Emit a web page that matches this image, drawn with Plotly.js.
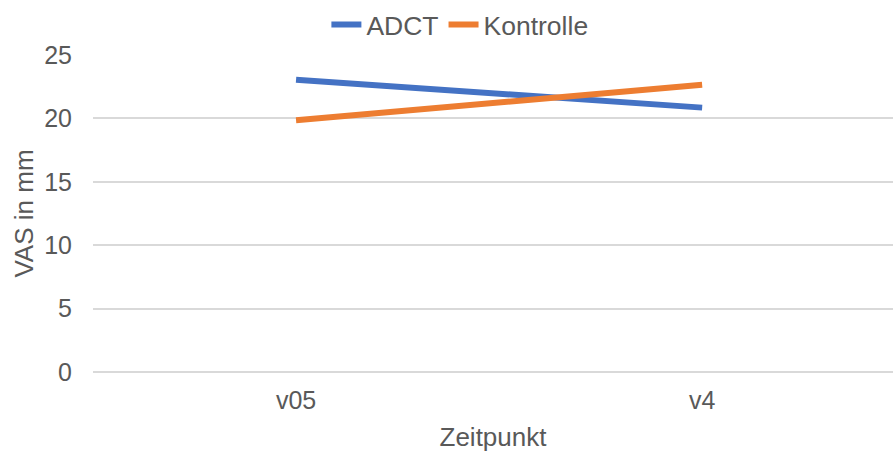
<!DOCTYPE html>
<html>
<head>
<meta charset="utf-8">
<script src="https://cdn.plot.ly/plotly-3.0.1.min.js"></script>
<style>
html,body{margin:0;padding:0;background:#fff;overflow:hidden;}
#chart{width:893px;height:452px;}
</style>
</head>
<body>
<div id="chart"></div>
<script>
const categories = ["v05", "v4"];
const adct = [23.05, 20.85];
const kontrolle = [19.85, 22.65];
const yTicks = [0, 5, 10, 15, 20, 25];

const font = "Liberation Sans, Arial, sans-serif";
const gray = "#595959";

const traces = [
  {x: categories, y: adct, name: "ADCT", type: "scatter", mode: "lines",
   line: {color: "#4472C4", width: 6}},
  {x: categories, y: kontrolle, name: "Kontrolle", type: "scatter", mode: "lines",
   line: {color: "#ED7D31", width: 6}}
];

const layout = {
  width: 893, height: 452,
  margin: {l: 92.5, r: 0, t: 54.5, b: 80.3},
  paper_bgcolor: "#fff", plot_bgcolor: "#fff",
  font: {family: font, color: gray, size: 25},
  showlegend: true,
  legend: {orientation: "h", xref: "container", yref: "container",
           x: 0.515, xanchor: "center", y: 0.945, yanchor: "middle",
           font: {size: 26.5, color: gray}, itemwidth: 30, tracegroupgap: 0},
  xaxis: {type: "category", range: [-0.5, 1.47], showgrid: false, zeroline: false,
          showline: false, ticks: "", tickfont: {size: 25, color: gray},
          ticklabelstandoff: 11,
          title: {text: "Zeitpunkt", font: {size: 26, color: gray}, standoff: 16}},
  yaxis: {range: [0, 25], tickvals: yTicks, ticktext: yTicks.map(String),
          showgrid: true, gridcolor: "#D9D9D9", gridwidth: 2,
          zeroline: true, zerolinecolor: "#D9D9D9", zerolinewidth: 2,
          showline: false, ticks: "", tickfont: {size: 25, color: gray},
          ticklabelstandoff: 20,
          title: {text: "VAS in mm", font: {size: 26, color: gray}, standoff: 3}}
};

Plotly.newPlot("chart", traces, layout, {staticPlot: true, displayModeBar: false});
</script>
</body>
</html>
